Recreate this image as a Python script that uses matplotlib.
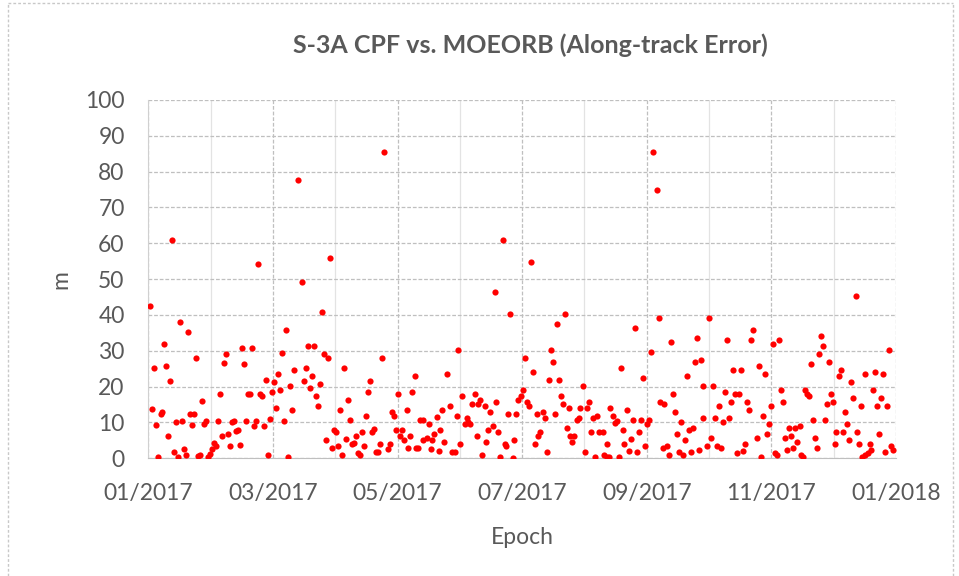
import matplotlib
matplotlib.use("Agg")
import matplotlib.pyplot as plt
import matplotlib.dates as mdates
from matplotlib.lines import Line2D
import pandas as pd

# days since 2017-01-01
epoch_day = [
    0.8, 2.0, 2.9, 3.9, 4.9, 6.2, 6.8, 7.8, 8.8, 9.8, 10.8, 11.7, 12.7, 13.7, 14.7,
    15.7, 16.6, 17.6, 18.6, 19.6, 20.5, 21.5, 22.5, 23.5, 24.5, 25.5, 26.4, 27.4,
    28.4, 29.4, 30.3, 31.3, 32.3, 33.3, 34.2, 35.2, 36.2, 37.2, 38.2, 39.1, 40.1,
    41.1, 42.1, 43.0, 44.0, 45.0,
    46.0, 47.0, 47.9, 48.9, 49.9, 50.9, 51.9, 52.8, 53.8, 54.8, 55.8, 56.7, 57.7,
    58.7, 59.7, 60.7, 61.6, 62.6, 63.6, 64.6, 65.6, 66.5, 67.5, 68.5, 69.5, 70.4,
    71.4, 73.4, 75.3, 76.3, 77.3, 78.3, 79.3, 80.2, 81.2, 82.2, 83.2, 84.1, 85.1,
    86.1, 87.1, 88.1, 89.0, 90.0,
    91.0, 92.0, 92.9, 93.9, 94.9, 95.9, 96.9, 97.8, 98.8, 99.8, 100.8, 101.8, 102.7,
    103.7, 104.7, 105.7, 106.6, 107.6, 108.6, 109.6, 110.6, 111.5, 112.5, 113.5,
    114.5, 115.6, 117.4, 118.4, 119.4, 120.3, 121.3, 122.3, 123.3, 124.3, 125.2,
    126.6, 127.2, 128.2, 129.1, 130.5, 131.1, 132.1, 133.1, 134.4, 134.7,
    136.5, 137.2, 138.2, 139.1, 140.1, 141.1, 142.1, 143.0, 144.0, 145.0, 146.0,
    147.9, 148.9, 149.9, 150.9, 151.8, 152.8, 153.8, 154.8, 155.8, 156.7, 157.7,
    158.7, 159.7, 160.7, 161.6, 162.6, 163.6, 164.6, 165.5, 166.5, 167.5, 168.5,
    169.5, 170.4, 171.4, 172.4, 173.4, 174.4, 175.3, 176.3, 177.3, 178.3, 179.2,
    179.9, 180.9,
    182.3, 183.3, 184.3, 185.3, 186.2, 187.2, 188.2, 189.2, 190.2, 190.8, 191.8,
    193.1, 194.1, 195.0, 196.0, 197.0, 198.0, 199.0, 199.9, 200.9, 201.9, 202.9,
    204.2, 204.8, 205.8, 206.4, 207.4, 208.4, 209.7, 210.7, 211.3, 213.0, 213.6,
    214.6, 215.6, 216.6, 217.5, 218.5, 219.5, 220.5, 222.4, 223.1, 224.4, 224.6,
    225.7, 226.0,
    227.5, 228.5, 229.4, 230.4, 231.4, 232.4, 233.1, 234.3, 235.3, 236.3, 237.3,
    238.1, 239.2, 240.2, 241.2, 242.2, 243.1, 244.1, 245.1, 246.1, 247.0, 249.0,
    250.0, 250.7, 251.9, 252.6, 253.9, 254.9, 255.7, 256.8, 257.8, 258.8, 259.8,
    260.7, 261.7, 262.7, 263.7, 264.7, 265.6, 266.6, 267.6, 268.6, 269.5, 270.5,
    271.4, 271.6,
    273.7, 274.4, 275.6, 276.6, 277.6, 278.6, 279.5, 280.5, 281.5, 282.5, 283.1,
    284.4, 285.4, 286.0, 287.4, 288.3, 289.3, 290.3, 291.3, 292.3, 293.2, 294.2,
    295.2, 296.2, 298.1, 299.1, 300.1, 301.1, 302.0, 303.0, 304.0, 305.0, 306.0,
    306.9, 307.9, 308.9, 309.9, 310.8, 311.8, 312.8, 313.8, 314.8, 315.7, 316.7,
    317.7,
    318.8, 319.5, 320.4, 321.4, 322.4, 323.4, 324.3, 325.3, 326.3, 327.3, 328.3,
    329.2, 330.2, 331.2, 332.2, 333.1, 334.1, 335.1, 336.0, 336.5, 338.0, 339.0,
    340.0, 341.0, 342.0, 342.9, 343.9, 344.9, 346.2, 346.8, 347.8, 348.8, 349.5,
    350.8, 350.9, 352.1, 353.1, 354.0, 354.7, 355.6, 356.6, 357.6, 358.6, 359.6,
    360.5, 361.5, 362.8, 363.8, 364.5,
]

# along-track error in metres
error_m = [
    42.4, 13.9, 25.2, 9.4, 0.5, 12.4, 12.8, 31.9, 25.7, 6.1, 21.7, 60.9, 1.7, 10.0, 0.4,
    38.0, 10.5, 2.7, 1.0, 35.2, 12.3, 9.4, 12.3, 28.0, 0.6, 1.0, 16.1, 9.5,
    10.5, 0.5, 1.1, 2.7, 4.4, 3.3, 10.5, 17.9, 6.1, 26.7, 29.1, 6.7, 3.3,
    10.1, 10.5, 7.7, 7.8, 3.8,
    30.7, 26.2, 10.5, 17.9, 17.9, 30.7, 8.9, 10.5, 54.2, 17.9, 17.3, 8.9, 21.8,
    0.9, 11.1, 18.5, 21.2, 14.0, 23.5, 19.0, 29.5, 10.5, 35.8, 0.5, 20.1, 13.4,
    24.6, 77.6, 49.2, 21.7, 25.2, 31.3, 19.6, 22.9, 31.3, 17.3, 14.5, 20.7, 40.8,
    29.1, 5.0, 28.0, 55.9, 2.8,
    7.8, 7.3, 3.3, 13.4, 1.0, 25.2, 5.5, 16.2, 10.6, 3.9, 4.4, 6.1, 1.6,
    1.0, 7.3, 3.3, 11.7, 18.5, 21.7, 7.3, 8.3, 1.7, 1.7, 3.9,
    28.0, 85.4, 2.7, 3.9, 12.8, 11.7, 7.8, 17.9, 6.2, 7.8, 5.0,
    13.4, 2.8, 6.2, 18.5, 22.9, 2.8, 2.8, 10.6, 5.0, 10.6,
    5.6, 9.5, 2.7, 5.0, 6.7, 11.6, 2.1, 7.8, 13.4, 4.5, 23.5,
    14.5, 1.7, 1.7, 11.7, 30.2, 3.9, 17.3, 9.5, 11.2, 10.1, 9.5,
    15.1, 17.9, 6.2, 15.1, 16.2, 1.0, 14.5, 4.5, 7.8, 12.9, 8.9,
    46.4, 15.7, 7.3, 0.5, 60.9, 3.9, 3.3, 12.3, 40.3, 0.1, 5.0,
    12.3, 16.2,
    17.5, 19.0, 28.0, 15.7, 14.5, 54.8, 24.0, 3.9, 12.3, 6.2, 7.3,
    12.9, 11.2, 1.7, 21.8, 30.2, 26.8, 12.3, 37.5, 21.8, 17.3, 15.1,
    40.3, 8.4, 14.0, 6.2, 4.5, 6.2, 10.6, 11.2, 14.0, 20.1, 1.7,
    14.0, 15.7, 7.3, 11.2, 0.5, 11.7, 7.3, 7.3, 1.0, 3.9, 0.5,
    0.5, 14.0,
    11.7, 9.8, 10.3, 0.5, 25.2, 7.8, 3.9, 13.4, 2.1, 5.5, 10.6,
    36.3, 1.7, 7.3, 10.6, 22.4, 3.3, 9.5, 10.6, 29.6, 85.4, 74.8,
    39.1, 15.7, 2.8, 15.1, 3.4, 1.0, 32.4, 17.9, 12.9, 6.7, 1.7,
    10.1, 1.0, 5.0, 22.9, 7.8, 1.7, 8.4, 26.8, 33.6, 2.2, 27.4,
    20.1, 11.2,
    3.3, 39.1, 5.6, 20.1, 11.2, 3.3, 14.5, 2.8, 10.1, 18.5, 33.0,
    11.2, 15.7, 24.6, 17.9, 1.6, 17.9, 24.6, 2.1, 3.9, 15.7, 13.4,
    33.0, 35.8, 5.6, 25.7, 0.5, 11.7, 23.5, 6.7, 9.5, 14.5, 31.9,
    1.6, 1.0, 33.0, 19.0, 15.7, 5.6, 2.2, 8.4, 6.2, 2.8, 8.4,
    4.5,
    8.9, 1.0, 0.5, 19.0, 17.9, 17.3, 26.3, 10.6, 5.6, 2.8, 29.1,
    34.1, 31.3, 10.6, 15.1, 26.8, 17.9, 15.7, 3.9, 7.3, 22.9, 24.6,
    7.3, 12.9, 9.5, 5.0, 21.2, 16.8, 45.3, 7.3, 3.9, 14.5, 0.5,
    23.5, 1.0, 1.6, 3.9, 2.2, 19.0, 24.0, 14.5, 6.7, 16.8, 23.5,
    1.7, 14.5, 30.2, 3.3, 2.2,
]

start = pd.Timestamp("2017-01-01")
epochs = start + pd.to_timedelta(epoch_day, unit="D")

text_col = "#595959"
plt.rcParams["font.family"] = ["Lato", "DejaVu Sans"]

fig = plt.figure(figsize=(9.59, 5.76), dpi=100)
ax = fig.add_axes([0.1546, 0.2043, 0.7797, 0.6221])

ax.scatter(epochs, error_m, s=20, color="#ff0000", linewidths=0, zorder=3)

# axis range: 6 steps of 61 days
major = pd.date_range(start, periods=7, freq="61D")
minor = pd.date_range(start, periods=13, freq="732h")
ax.set_xlim(major[0], major[-1])
ax.set_ylim(0, 100)
ax.set_xticks(major)
ax.set_xticks(minor, minor=True)
ax.xaxis.set_major_formatter(mdates.DateFormatter("%m/%Y"))
ax.set_yticks(range(0, 101, 10))

ax.grid(axis="y", color="#bfbfbf", linestyle=(0, (3, 1.5)), linewidth=0.9)
ax.grid(axis="x", which="major", color="#bfbfbf", linestyle=(0, (3, 1.5)), linewidth=0.9)
ax.grid(axis="x", which="minor", color="#e3e3e3", linestyle="-", linewidth=0.9)
ax.set_axisbelow(True)

for side in ["top", "right"]:
    ax.spines[side].set_visible(False)
ax.spines["left"].set_color("#d0d0d0")
ax.spines["bottom"].set_color("#bfbfbf")

ax.tick_params(axis="both", which="both", length=0, labelsize=16.5, labelcolor=text_col)
ax.tick_params(axis="y", pad=17)
ax.tick_params(axis="x", pad=18)

ax.set_xlabel("Epoch", fontsize=16.5, color=text_col, labelpad=16)
ax.set_ylabel("m", fontsize=16.5, color=text_col, labelpad=10)

fig.text(0.553, 0.922, "S-3A CPF vs. MOEORB (Along-track Error)", ha="center", va="center",
         fontsize=18, fontweight="bold", color=text_col)

# chart area border
for xs, ys in [([0.008, 0.008], [0, 0.995]), ([0.994, 0.994], [0, 0.995]),
               ([0.008, 0.994], [0.995, 0.995])]:
    fig.add_artist(Line2D(xs, ys, color="#c8c8c8", linestyle=(0, (2, 1.5)), linewidth=1,
                          transform=fig.transFigure))

fig.savefig("out.png", dpi=100, facecolor="white")
